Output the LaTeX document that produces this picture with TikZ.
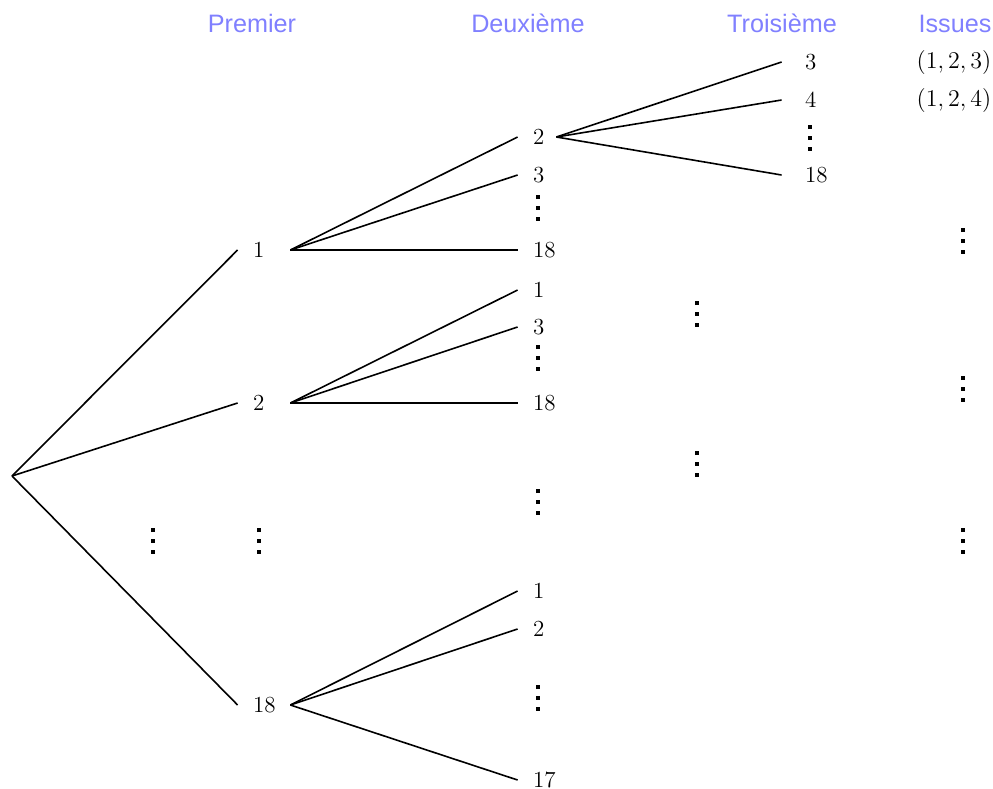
\documentclass[tikz,border=0pt]{standalone}
\usepackage[no-math]{fontspec}
\newfontfamily\headfont{Liberation Sans}
\definecolor{headblue}{RGB}{128,128,255}
\newcommand{\sqdot}{\rule{1.9pt}{1.9pt}}
\newcommand{\sqvdots}{\vbox{\baselineskip=5.4pt\lineskiplimit=0pt\hbox{\sqdot}\hbox{\sqdot}\hbox{\sqdot}}}
\begin{document}
\begin{tikzpicture}[x=0.5pt,y=-0.5pt,
  edge/.style={line width=0.8pt},
  num/.style={font=\fontsize{11.5}{13}\selectfont},
  lvlone/.style={num, text width=11pt, inner xsep=7.5pt, inner ysep=0pt, align=left, text height=7.4pt, text depth=0pt},
  lvltwo/.style={num, text width=4pt, inner xsep=7.5pt, inner ysep=0pt, align=left, text height=7.4pt, text depth=0pt},
  lvlthree/.style={num, text width=6pt, inner xsep=11.5pt, inner ysep=0pt, align=left, text height=7.4pt, text depth=0pt},
  head/.style={anchor=base, text=headblue, font=\headfont\fontsize{12.6}{14}\selectfont, inner sep=0pt},
  dots/.style={inner sep=0pt}]
\useasboundingbox (0,0) rectangle (993,789);
% headers
\node[head] (hp) at (252,32) {Premier};
\node[head] (hd) at (528,32) {Deuxième};
\node[head] (ht) at (782,32) {Troisième};
\node[head] (hi) at (955,32) {Issues};
% root
\coordinate (root) at (12,476);
% level 1
\node[lvlone] (n1) at (264,250) {1};
\node[lvlone] (n2) at (264,403) {2};
\node[lvlone] (n18) at (264,705) {18};
% level 2
\node[lvltwo] (a2) at (537,137) {2};
\node[lvltwo] (a3) at (537,175) {3};
\node[lvltwo] (a18) at (537,250) {18};
\node[lvltwo] (b1) at (537,290) {1};
\node[lvltwo] (b3) at (537,327) {3};
\node[lvltwo] (b18) at (537,403) {18};
\node[lvltwo] (c1) at (537,591) {1};
\node[lvltwo] (c2) at (537,629) {2};
\node[lvltwo] (c17) at (537,780) {17};
% level 3
\node[lvlthree] (t3) at (811,62) {3};
\node[lvlthree] (t4) at (811,100) {4};
\node[lvlthree] (t18) at (811,175) {18};
% issues
\node[num, inner sep=0pt] (i123) at (954,62) {$(1,2,3)$};
\node[num, inner sep=0pt] (i124) at (954,100) {$(1,2,4)$};
% vdots
\node[dots] (v1) at (153,541) {\sqvdots};
\node[dots] (v2) at (259,541) {\sqvdots};
\node[dots] (v3) at (538,208) {\sqvdots};
\node[dots] (v4) at (538,358) {\sqvdots};
\node[dots] (v5) at (538,502) {\sqvdots};
\node[dots] (v6) at (538,698) {\sqvdots};
\node[dots] (v7) at (810,138) {\sqvdots};
\node[dots] (v8) at (697,314) {\sqvdots};
\node[dots] (v9) at (697,464) {\sqvdots};
\node[dots] (v10) at (963,241) {\sqvdots};
\node[dots] (v11) at (963,389) {\sqvdots};
\node[dots] (v12) at (963,541) {\sqvdots};
% edges
\draw[edge] (root) -- (n1.west);
\draw[edge] (root) -- (n2.west);
\draw[edge] (root) -- (n18.west);
\draw[edge] (n1.east) -- (a2.west);
\draw[edge] (n1.east) -- (a3.west);
\draw[edge] (n1.east) -- (a18.west);
\draw[edge] (n2.east) -- (b1.west);
\draw[edge] (n2.east) -- (b3.west);
\draw[edge] (n2.east) -- (b18.west);
\draw[edge] (n18.east) -- (c1.west);
\draw[edge] (n18.east) -- (c2.west);
\draw[edge] (n18.east) -- (c17.west);
\draw[edge] (a2.east) -- (t3.west);
\draw[edge] (a2.east) -- (t4.west);
\draw[edge] (a2.east) -- (t18.west);
\end{tikzpicture}
\end{document}
